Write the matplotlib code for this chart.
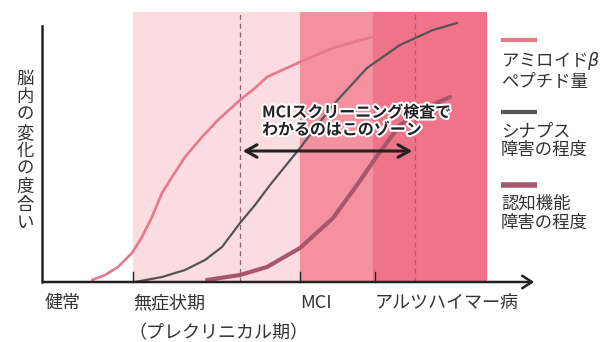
import matplotlib
matplotlib.use("Agg")
import matplotlib.pyplot as plt
import matplotlib.patheffects as pe

plt.rcParams["font.family"] = ["Noto Sans CJK JP", "DejaVu Sans"]

# x: progression (px from y axis), y: degree of change (px above x axis)
amyloid_x = [50, 63, 76, 90, 100, 110, 120, 130, 143, 160, 176, 198, 213, 225, 258, 291, 330]
amyloid_y = [2, 7, 15, 29, 45, 65, 89, 105, 125, 145, 162, 182, 194, 205, 220, 234, 245]
synapse_x = [93, 120, 143, 163, 180, 198, 213, 228, 258, 291, 325, 358, 391, 415]
synapse_y = [0, 5, 12, 22, 35, 59, 77, 97, 134, 177, 214, 237, 252, 259]
cognition_x = [165, 198, 225, 258, 291, 315, 335, 358, 383, 408]
cognition_y = [2, 7, 15, 34, 64, 97, 126, 157, 174, 185]

stage_pos = [3, 91, 258, 333]
stage_labels = ["健常", "無症状期", "MCI", "アルツハイマー病"]
stage_sub = "（プレクリニカル期）"
band_edges = [91, 258, 331, 445]
band_colors = ["#fbdce0", "#f4909f", "#ef7389"]
zone = [198, 373]

legend_labels = ["アミロイド$\\beta$\nペプチド量", "シナプス\n障害の程度", "認知機能\n障害の程度"]
colors = {"amyloid": "#e8788c", "synapse": "#555555", "cognition": "#a8566b"}

fig = plt.figure(figsize=(6.05, 3.42), dpi=100)
ax = fig.add_axes([0, 0, 1, 1])
ax.set_xlim(-42, 563)
ax.set_ylim(-60, 282)
ax.axis("off")

# stage bands
for i, c in enumerate(band_colors):
    ax.axvspan(band_edges[i], band_edges[i + 1], ymin=60 / 342, ymax=330 / 342, color=c, lw=0, zorder=0)
for x in zone:
    ax.plot([x, x], [0, 270], color="#8f6470", lw=0.9, ls=(0, (4, 3)), zorder=1)

# curves
ax.plot(amyloid_x, amyloid_y, color=colors["amyloid"], lw=1.9, solid_capstyle="round",
        solid_joinstyle="round", zorder=2)
ax.plot(synapse_x, synapse_y, color=colors["synapse"], lw=1.6, solid_capstyle="round",
        solid_joinstyle="round", zorder=2)
ax.plot(cognition_x, cognition_y, color=colors["cognition"], lw=3.0, solid_capstyle="round",
        solid_joinstyle="round", zorder=2)

# axes
ax.plot([0, 0], [0, 256], color="#222222", lw=1.8, zorder=3)
ax.annotate("", xy=(495, 0), xytext=(-1, 0),
            arrowprops=dict(arrowstyle="->,head_length=0.7,head_width=0.45", color="#222222", lw=1.8),
            zorder=3)
for x in stage_pos[1:]:
    ax.plot([x, x], [0, 10], color="#222222", lw=1.0, zorder=3)
for x, lab in zip(stage_pos, stage_labels):
    ax.text(x, -21, lab, ha="left", va="center", fontsize=13, color="#333333")
ax.text(86, -51, stage_sub, ha="left", va="center", fontsize=13, color="#333333")

ax.text(-17, 131, "\n".join("脳内の変化の度合い"), ha="center", va="center",
        fontsize=12.5, color="#333333", linespacing=1.0)

# screening zone
ax.text(220, 161, "MCIスクリーニング検査で\nわかるのはこのゾーン", ha="left", va="center",
        fontsize=11.5, fontweight="bold", color="#222222", linespacing=1.1,
        path_effects=[pe.withStroke(linewidth=3, foreground="white")], zorder=5)
ax.annotate("", xy=(zone[1], 131), xytext=(zone[0], 131),
            arrowprops=dict(arrowstyle="<->,head_length=0.8,head_width=0.45", color="#222222", lw=2.2),
            zorder=4)

# legend
leg_y = [242, 170, 97]
for (key, lab), y, w in zip(zip(["amyloid", "synapse", "cognition"], legend_labels), leg_y, [3, 3, 4]):
    ax.plot([459, 495], [y, y], color=colors[key], lw=w, solid_capstyle="butt")
    ax.text(459, y - 10, lab, ha="left", va="top", fontsize=12.5, color="#333333", linespacing=1.05)

fig.savefig("out.png", dpi=100)
